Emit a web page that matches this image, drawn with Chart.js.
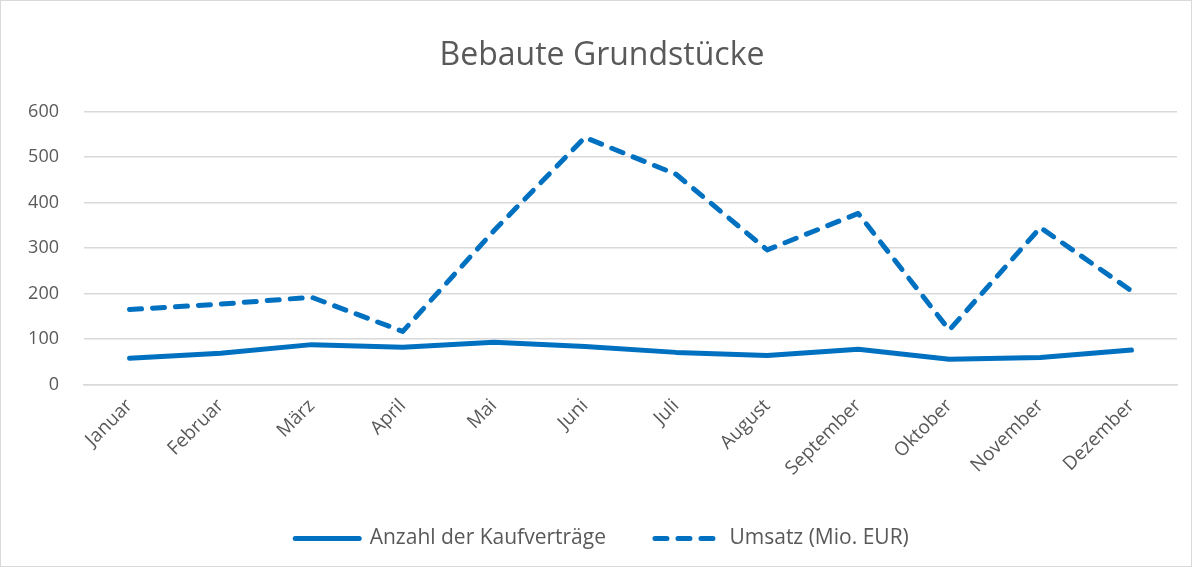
<!DOCTYPE html>
<html>
<head>
<meta charset="utf-8">
<script src="https://cdn.jsdelivr.net/npm/chart.js@4/dist/chart.umd.min.js"></script>
<style>
  html, body { margin: 0; padding: 0; background: #fff; }
  #wrap { width: 1190px; height: 565px; border: 1px solid #d9d9d9; }
</style>
</head>
<body>
<div id="wrap"><canvas id="lineChart" width="1190" height="565"></canvas></div>
<script>
const months = ['Januar', 'Februar', 'März', 'April', 'Mai', 'Juni', 'Juli', 'August', 'September', 'Oktober', 'November', 'Dezember'];
const kaufvertraege = [58, 69, 88, 82, 93, 84, 71, 64, 78, 56, 60, 76];
const umsatz = [165, 177, 192, 117, 338, 543, 462, 296, 376, 120, 345, 206];
const yTicks = [0, 100, 200, 300, 400, 500, 600];

const blue = '#0070C0';
const grey = '#595959';
const fontName = "'Open Sans', sans-serif";

document.addEventListener('DOMContentLoaded', () => {
    const ctx = document.getElementById('lineChart').getContext('2d');
    new Chart(ctx, {
        type: 'line',
        data: {
            labels: months,
            datasets: [{
                label: 'Anzahl der Kaufverträge',
                data: kaufvertraege,
                borderColor: blue,
                backgroundColor: blue,
                borderWidth: 5,
                borderCapStyle: 'round',
                borderJoinStyle: 'round',
                pointRadius: 0,
                tension: 0
            }, {
                label: 'Umsatz (Mio. EUR)',
                data: umsatz,
                borderColor: blue,
                backgroundColor: blue,
                borderWidth: 5,
                borderDash: [12, 11],
                borderCapStyle: 'round',
                borderJoinStyle: 'round',
                pointRadius: 0,
                tension: 0
            }]
        },
        options: {
            responsive: false,
            animation: false,
            layout: { padding: { left: 26, right: 14, top: 0, bottom: 7 } },
            plugins: {
                title: {
                    display: true,
                    text: 'Bebaute Grundstücke',
                    color: grey,
                    font: { family: fontName, size: 32, weight: 'normal', lineHeight: 1.2 },
                    padding: { top: 36, bottom: 36 }
                },
                legend: {
                    position: 'bottom',
                    labels: {
                        usePointStyle: true,
                        pointStyle: 'line',
                        pointStyleWidth: 64,
                        color: grey,
                        font: { family: fontName, size: 21 },
                        padding: 49,
                        generateLabels: (chart) => chart.data.datasets.map((ds, i) => ({
                            text: ds.label,
                            strokeStyle: ds.borderColor,
                            fillStyle: ds.borderColor,
                            fontColor: grey,
                            lineWidth: 5,
                            lineCap: 'round',
                            lineDash: ds.borderDash || [],
                            pointStyle: 'line',
                            datasetIndex: i,
                            hidden: false
                        }))
                    }
                },
                tooltip: { enabled: false }
            },
            scales: {
                x: {
                    offset: true,
                    grid: { display: false },
                    border: { color: '#d9d9d9', width: 1.5 },
                    afterFit: (scale) => { scale.paddingLeft = 0; scale.paddingRight = 0; scale.height -= 3; },
                    ticks: {
                        color: grey,
                        font: { family: fontName, size: 19 },
                        maxRotation: 45,
                        minRotation: 45,
                        padding: 2
                    }
                },
                y: {
                    min: 0,
                    max: 600,
                    afterBuildTicks: (axis) => { axis.ticks = yTicks.map(v => ({ value: v })); },
                    afterFit: (scale) => { scale.width = 57; },
                    grid: { color: '#d9d9d9', lineWidth: 1.5, drawTicks: false },
                    border: { display: false },
                    ticks: {
                        color: grey,
                        font: { family: fontName, size: 18 },
                        padding: 25
                    }
                }
            }
        }
    });
});
</script>
</body>
</html>
